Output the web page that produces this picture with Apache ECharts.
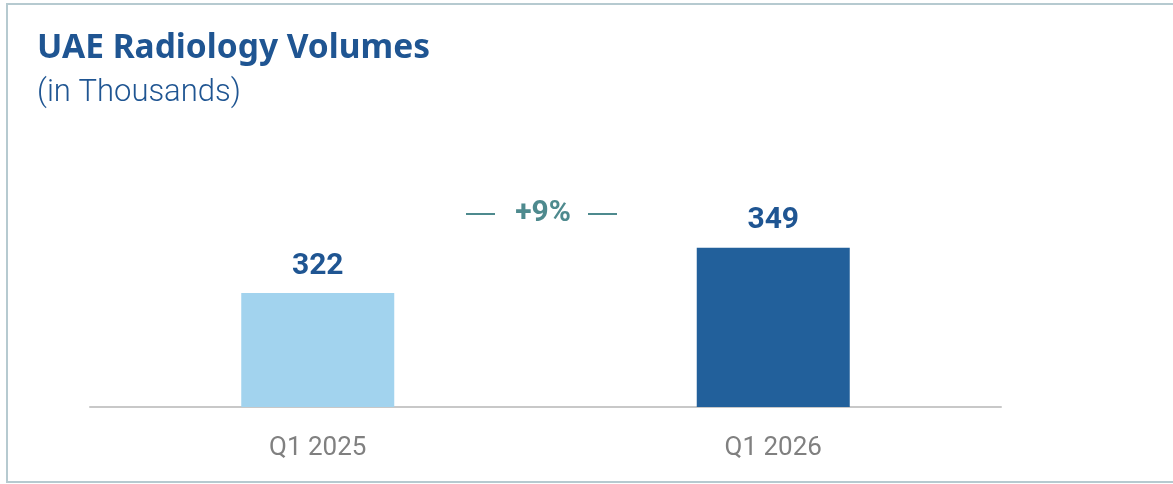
<!DOCTYPE html>
<html>
<head>
<meta charset="utf-8">
<script src="https://cdn.jsdelivr.net/npm/echarts@6/dist/echarts.min.js"></script>
<style>
html,body{margin:0;padding:0;background:#fff;overflow:hidden;}
#chart{width:1173px;height:484px;}
</style>
</head>
<body>
<div id="chart"></div>
<script>
const categories = ['Q1 2025', 'Q1 2026'];
const volumes = [322, 349];
const barColors = ['#a2d3ee', '#22609b'];
const growthLabel = '+9%';
const titleText = 'UAE Radiology Volumes';
const subtitleText = '(in Thousands)';

const chart = echarts.init(document.getElementById('chart'), null, {renderer: 'canvas'});
chart.setOption({
  animation: false,
  backgroundColor: '#ffffff',
  title: {
    text: titleText,
    subtext: subtitleText,
    left: 32,
    top: 26,
    itemGap: 13,
    textStyle: {fontFamily: 'Noto Sans', fontWeight: 'bold', fontSize: 33.5, color: '#1f5592'},
    subtextStyle: {fontFamily: 'Roboto', fontWeight: 300, fontSize: 31, color: '#1f5592'}
  },
  grid: {left: 90, right: 172, top: 107, bottom: 77, containLabel: false},
  xAxis: {
    type: 'category',
    data: categories,
    axisLine: {lineStyle: {color: '#c8c8c8', width: 2}},
    axisTick: {show: false},
    axisLabel: {fontFamily: 'Roboto', fontSize: 26, color: '#808080', margin: 28}
  },
  yAxis: {
    type: 'value',
    min: 254,
    max: 433,
    show: false,
    splitLine: {show: false}
  },
  series: [{
    type: 'bar',
    data: volumes.map((v, i) => ({value: v, itemStyle: {color: barColors[i]}})),
    barWidth: 153,
    label: {
      show: true,
      position: 'top',
      distance: 12,
      fontFamily: 'Roboto',
      fontWeight: 'bold',
      fontSize: 30,
      color: '#1f5592'
    }
  }],
  graphic: [
    {type: 'line', shape: {x1: 6, y1: 4, x2: 1173, y2: 4}, style: {stroke: '#b6cad0', lineWidth: 2}, silent: true},
    {type: 'line', shape: {x1: 7, y1: 4, x2: 7, y2: 482}, style: {stroke: '#b6cad0', lineWidth: 2}, silent: true},
    {type: 'line', shape: {x1: 6, y1: 482, x2: 1173, y2: 482}, style: {stroke: '#b6cad0', lineWidth: 2}, silent: true},
    {type: 'line', shape: {x1: 466, y1: 214, x2: 495, y2: 214}, style: {stroke: '#4e8a8e', lineWidth: 2}},
    {type: 'line', shape: {x1: 588, y1: 214, x2: 617, y2: 214}, style: {stroke: '#4e8a8e', lineWidth: 2}},
    {type: 'text', x: 543, y: 213, style: {text: growthLabel, fill: '#4e8a8e', font: 'bold 30px Roboto', textAlign: 'center', textVerticalAlign: 'middle'}}
  ]
});
</script>
</body>
</html>
